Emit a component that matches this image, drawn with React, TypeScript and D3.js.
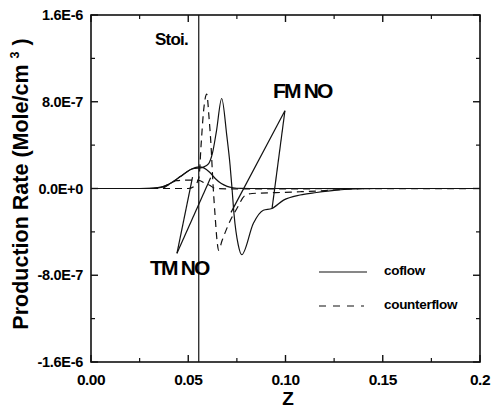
import React from "react";
import * as d3 from "d3";

// ---- data (Z, production rate in Mole/cm^3/s) ----
const coflowTM_Z = [0, 0.025, 0.032, 0.036, 0.04, 0.043, 0.046, 0.049, 0.052, 0.0555, 0.058, 0.061, 0.064, 0.067, 0.07, 0.073, 0.077, 0.085, 0.2];
const coflowTM_V = [0, 0, 0.03e-7, 0.12e-7, 0.4e-7, 0.72e-7, 1.12e-7, 1.5e-7, 1.82e-7, 2.0e-7, 1.9e-7, 1.5e-7, 0.9e-7, 0.45e-7, 0.2e-7, 0.07e-7, 0.01e-7, 0, 0];

const coflowFM_Z = [0, 0.03, 0.036, 0.04, 0.046, 0.052, 0.0575, 0.0605, 0.0625, 0.0645, 0.0672, 0.0698, 0.0715, 0.0725, 0.0735, 0.0757, 0.0775, 0.0835, 0.0886, 0.093, 0.099, 0.1075, 0.116, 0.126, 0.14, 0.2];
const coflowFM_V = [0, 0, 0.1e-7, 0.4e-7, 1.1e-7, 1.8e-7, 1.95e-7, 2.3e-7, 3.3e-7, 5.3e-7, 8.3e-7, 4.9e-7, 2.15e-7, 0, -2.3e-7, -5.2e-7, -6.1e-7, -3.2e-7, -2.0e-7, -1.84e-7, -1.07e-7, -0.6e-7, -0.37e-7, -0.15e-7, 0, 0];

const counterTM_Z = [0, 0.036, 0.04, 0.044, 0.05, 0.0555, 0.058, 0.061, 0.064, 0.07, 0.2];
const counterTM_V = [0, 0, 0.35e-7, 0.72e-7, 0.78e-7, 0.75e-7, 0.55e-7, 0.3e-7, 0.0, -0.03e-7, 0];

const counterFM_Z = [0, 0.05, 0.053, 0.0555, 0.0566, 0.0578, 0.0595, 0.0607, 0.0617, 0.0627, 0.0638, 0.0648, 0.0656, 0.0674, 0.0715, 0.075, 0.0792, 0.0828, 0.095, 0.1075, 0.12, 0.133, 0.15, 0.2];
const counterFM_V = [0, 0, 0.2e-7, 1.0e-7, 4.0e-7, 7.0e-7, 8.7e-7, 6.5e-7, 4.0e-7, 0.5e-7, -2.5e-7, -4.8e-7, -5.7e-7, -4.8e-7, -3.0e-7, -1.85e-7, -0.64e-7, -0.46e-7, -0.38e-7, -0.3e-7, -0.2e-7, -0.05e-7, 0, 0];

const stoiZ = 0.0554;

// annotation leaders: apex then end points
const fmLabelApex = [0.0997, 7.17e-7];
const fmLabelEnds = [[0.072, -2.2e-7], [0.0931, -1.84e-7]];
const tmLabelApex = [0.0442, -5.98e-7];
const tmLabelEnds = [[0.0522, 1.05e-7], [0.0615, 1.0e-7]];

const xTicks = [0, 0.05, 0.1, 0.15, 0.2];
const xTickLabels = ["0.00", "0.05", "0.10", "0.15", "0.2"];
const xMinorTicks = [0.025, 0.075, 0.125, 0.175];
const yTicks = [1.6e-6, 8e-7, 0, -8e-7, -1.6e-6];
const yTickLabels = ["1.6E-6", "8.0E-7", "0.0E+0", "-8.0E-7", "-1.6E-6"];
const yMinorTicks = [1.2e-6, 4e-7, -4e-7, -1.2e-6];

const W = 492, H = 410;
const left = 91, right = 480, top = 15, bottom = 362;
const FONT = "'Liberation Sans', Arial, Helvetica, sans-serif";

export default function App() {
  const x = d3.scaleLinear().domain([0, 0.2]).range([left, right]);
  const y = d3.scaleLinear().domain([-1.6e-6, 1.6e-6]).range([bottom, top]);
  const line = d3.line<number>()
    .x((d: any) => x(d[0]))
    .y((d: any) => y(d[1]))
    .curve(d3.curveMonotoneX) as any;
  const zip = (a: number[], b: number[]) => a.map((v, i) => [v, b[i]]);
  const straight = d3.line<any>().x((d: any) => x(d[0])).y((d: any) => y(d[1]));

  const solid = { fill: "none", stroke: "#111", strokeWidth: 1.2 };
  const dashed = { fill: "none", stroke: "#111", strokeWidth: 1.2, strokeDasharray: "7,5" };

  return (
    <svg width={W} height={H} style={{ position: "absolute", left: 0, top: 0, background: "#fff" }} fontFamily={FONT}>
      <rect x={0} y={0} width={W} height={H} fill="#fff" />
      {/* curves */}
      <path d={line(zip(coflowTM_Z, coflowTM_V))} {...solid} />
      <path d={line(zip(coflowFM_Z, coflowFM_V))} {...solid} />
      <path d={line(zip(counterTM_Z, counterTM_V))} {...dashed} />
      <path d={line(zip(counterFM_Z, counterFM_V))} {...dashed} />

      {/* stoichiometric line */}
      <line x1={x(stoiZ)} x2={x(stoiZ)} y1={top} y2={bottom} stroke="#111" strokeWidth={1.2} />
      <text x={155} y={45} fontSize={17} fontWeight="bold" letterSpacing={-0.8}>Stoi.</text>

      {/* annotation leaders */}
      {fmLabelEnds.map((e, i) => (
        <path key={"fm" + i} d={straight([fmLabelApex, e])} stroke="#111" strokeWidth={1.2} fill="none" />
      ))}
      {tmLabelEnds.map((e, i) => (
        <path key={"tm" + i} d={straight([tmLabelApex, e])} stroke="#111" strokeWidth={1.2} fill="none" />
      ))}
      <text x={273} y={98} fontSize={21} fontWeight="bold" letterSpacing={-1.8}>FM NO</text>
      <text x={150} y={275} fontSize={21} fontWeight="bold" letterSpacing={-1.8}>TM NO</text>

      {/* legend */}
      <line x1={319} x2={367} y1={272} y2={272} stroke="#111" strokeWidth={1.2} />
      <text x={384} y={275} fontSize={13.5} fontWeight="bold" letterSpacing={-0.3}>coflow</text>
      <line x1={319} x2={364} y1={306} y2={306} stroke="#111" strokeWidth={1.2} strokeDasharray="7,7" />
      <text x={384} y={309} fontSize={13.5} fontWeight="bold" letterSpacing={-0.3}>counterflow</text>

      {/* frame */}
      <rect x={left} y={top} width={right - left} height={bottom - top} fill="none" stroke="#111" strokeWidth={1.6} />

      {/* x ticks */}
      {xTicks.map((t, i) => (
        <g key={"xt" + i}>
          <line x1={x(t)} x2={x(t)} y1={bottom} y2={bottom - 7} stroke="#111" strokeWidth={1.4} />
          <line x1={x(t)} x2={x(t)} y1={top} y2={top + 7} stroke="#111" strokeWidth={1.4} />
          <text x={x(t)} y={385} fontSize={15.5} fontWeight="bold" textAnchor="middle" letterSpacing={-0.5}>{xTickLabels[i]}</text>
        </g>
      ))}
      {xMinorTicks.map((t, i) => (
        <g key={"xm" + i}>
          <line x1={x(t)} x2={x(t)} y1={bottom} y2={bottom - 4} stroke="#111" strokeWidth={1.2} />
          <line x1={x(t)} x2={x(t)} y1={top} y2={top + 4} stroke="#111" strokeWidth={1.2} />
        </g>
      ))}
      {/* y ticks */}
      {yTicks.map((t, i) => (
        <g key={"yt" + i}>
          <line x1={left} x2={left + 7} y1={y(t)} y2={y(t)} stroke="#111" strokeWidth={1.4} />
          <line x1={right} x2={right - 7} y1={y(t)} y2={y(t)} stroke="#111" strokeWidth={1.4} />
          <text x={83} y={y(t) + 5} fontSize={14.5} fontWeight="bold" textAnchor="end" letterSpacing={-0.3}>{yTickLabels[i]}</text>
        </g>
      ))}
      {yMinorTicks.map((t, i) => (
        <g key={"ym" + i}>
          <line x1={left} x2={left + 4} y1={y(t)} y2={y(t)} stroke="#111" strokeWidth={1.2} />
          <line x1={right} x2={right - 4} y1={y(t)} y2={y(t)} stroke="#111" strokeWidth={1.2} />
        </g>
      ))}

      {/* axis titles */}
      <text x={288} y={405} fontSize={19} fontWeight="bold" textAnchor="middle">Z</text>
      <text transform={`translate(28,${184}) rotate(-90)`} fontSize={21.5} fontWeight="bold" textAnchor="middle">
        Production Rate (Mole/cm <tspan fontSize={12.5} dy={-9}>3</tspan><tspan dy={9}> )</tspan>
      </text>
    </svg>
  );
}
